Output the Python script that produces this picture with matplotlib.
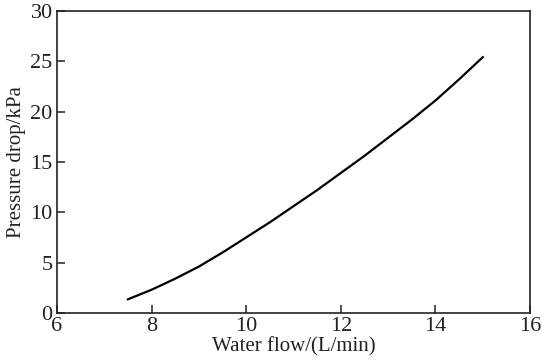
import numpy as np
import matplotlib
matplotlib.use("Agg")
import matplotlib.pyplot as plt

# values
water_flow = [7.5, 8, 8.5, 9, 9.5, 10, 10.5, 11, 11.5, 12, 12.5, 13, 13.5, 14, 14.5, 15]
pressure_drop = [1.35, 2.3, 3.4, 4.6, 6.0, 7.5, 9.0, 10.6, 12.2, 13.9, 15.6, 17.4, 19.2, 21.1, 23.2, 25.4]

x_ticks = [6, 8, 10, 12, 14, 16]
y_ticks = [0, 5, 10, 15, 20, 25, 30]

plt.rcParams['font.family'] = ['Liberation Serif', 'DejaVu Serif']

fig = plt.figure(figsize=(5.42, 3.63), dpi=100)
ax = fig.add_axes([0.105, 0.138, 0.873, 0.832])

ax.plot(water_flow, pressure_drop, color='black', linewidth=1.6)

ax.set_xlim(6, 16)
ax.set_ylim(0, 30)
ax.set_xticks(x_ticks)
ax.set_yticks(y_ticks)
ax.tick_params(direction='in', length=6, width=1.1, labelsize=16, pad=3,
               colors='#222222')
for s in ax.spines.values():
    s.set_linewidth(1.2)
    s.set_color('#222222')

ax.set_xlabel('Water flow/(L/min)', fontsize=15, labelpad=1, color='#222222')
ax.set_ylabel('Pressure drop/kPa', fontsize=15, labelpad=3, color='#222222')

fig.savefig('out.png', dpi=100)
